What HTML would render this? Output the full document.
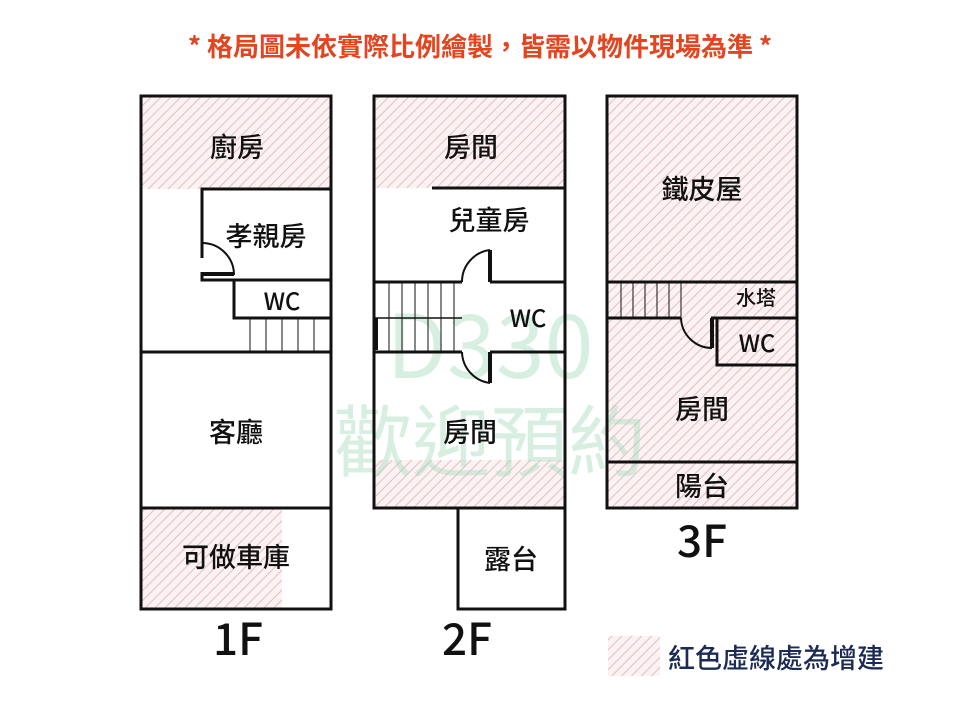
<!DOCTYPE html>
<html><head><meta charset="utf-8"><style>
html,body{margin:0;padding:0;background:#fff;}
svg{display:block;}
text{font-family:"Noto Sans CJK TC","Liberation Sans",sans-serif;}
</style></head><body>
<svg width="960" height="720" viewBox="0 0 960 720" xmlns="http://www.w3.org/2000/svg">
<defs>
<pattern id="h" patternUnits="userSpaceOnUse" width="7" height="7" patternTransform="rotate(45)">
<rect width="7" height="7" fill="#fbf2f3"/>
<line x1="0" y1="0" x2="0" y2="7" stroke="#e6bcc0" stroke-width="2"/>
</pattern>
</defs>
<text x="480" y="56" text-anchor="middle" font-size="26" font-weight="bold" fill="#e2451f">* 格局圖未依實際比例繪製，皆需以物件現場為準 *</text>

<rect x="141" y="96" width="190" height="93" fill="url(#h)"/>
<rect x="141" y="508" width="141" height="101" fill="url(#h)"/>
<rect x="374" y="96" width="191" height="92" fill="url(#h)"/>
<rect x="374" y="460" width="191" height="48" fill="url(#h)"/>
<rect x="607" y="96" width="190" height="412" fill="url(#h)"/>
<rect x="608" y="636" width="52" height="40" fill="url(#h)"/>

<g fill="#a8dcbb" opacity="0.45">
<text x="490" y="378" text-anchor="middle" font-size="88">D330</text>
<text x="490" y="470" text-anchor="middle" font-size="78">歡迎預約</text>
</g>

<g fill="none" stroke="#111" stroke-width="3">
<rect x="141" y="96" width="190" height="513"/>
<path d="M202 258 V189 H331"/>
<path d="M202 272 V280 H331"/>
<path d="M234 280 V318 H331"/>
<line x1="141" y1="352" x2="331" y2="352"/>
<line x1="141" y1="508" x2="331" y2="508"/>
<path d="M202 243 A32 32 0 0 1 234 275" stroke-width="2"/>
<line x1="202" y1="274" x2="234" y2="274" stroke-width="4"/>
<rect x="374" y="96" width="191" height="412"/>
<line x1="432" y1="188" x2="565" y2="188"/>
<path d="M374 282 H462"/>
<path d="M490 282 H565"/>
<path d="M374 352 H462"/>
<path d="M490 352 H565"/>
<line x1="490" y1="250" x2="490" y2="282" stroke-width="4"/>
<line x1="490" y1="352" x2="490" y2="383" stroke-width="4"/>
<path d="M490 250 A32 32 0 0 0 462 282" stroke-width="2"/>
<path d="M490 383 A32 32 0 0 1 462 352" stroke-width="2"/>
<line x1="375" y1="318" x2="462" y2="318" stroke-width="1.5"/>
<line x1="376" y1="318" x2="376" y2="350" stroke-width="4"/>
<rect x="458" y="508" width="107" height="101"/>
<rect x="607" y="96" width="190" height="412"/>
<line x1="607" y1="282" x2="797" y2="282"/>
<line x1="607" y1="318" x2="681" y2="318"/>
<path d="M711 318 H797"/>
<path d="M717 318 V365 H797"/>
<line x1="712" y1="318" x2="712" y2="348" stroke-width="4"/>
<path d="M681 318 A31 31 0 0 0 712 348" stroke-width="2"/>
<line x1="607" y1="462" x2="797" y2="462"/>
</g>
<g stroke="#111" stroke-width="1">
<line x1="250" y1="318" x2="250" y2="352"/><line x1="266" y1="318" x2="266" y2="352"/><line x1="282" y1="318" x2="282" y2="352"/><line x1="298" y1="318" x2="298" y2="352"/><line x1="314" y1="318" x2="314" y2="352"/>
<line x1="389" y1="282" x2="389" y2="352"/><line x1="402" y1="282" x2="402" y2="352"/><line x1="415" y1="282" x2="415" y2="352"/><line x1="428" y1="282" x2="428" y2="352"/><line x1="441" y1="282" x2="441" y2="352"/><line x1="454" y1="282" x2="454" y2="352"/>
<line x1="621" y1="282" x2="621" y2="318"/><line x1="633" y1="282" x2="633" y2="318"/><line x1="645" y1="282" x2="645" y2="318"/><line x1="657" y1="282" x2="657" y2="318"/><line x1="669" y1="282" x2="669" y2="318"/><line x1="681" y1="282" x2="681" y2="318"/>
</g>

<g fill="#111" font-size="27" font-weight="500" text-anchor="middle">
<text x="237" y="157">廚房</text>
<text x="266" y="246">孝親房</text>
<text x="282" y="310" font-size="24">WC</text>
<text x="236" y="442">客廳</text>
<text x="236" y="567">可做車庫</text>
<text x="471" y="157">房間</text>
<text x="489" y="230">兒童房</text>
<text x="528" y="327" font-size="24">WC</text>
<text x="470" y="442">房間</text>
<text x="511" y="569">露台</text>
<text x="702" y="199">鐵皮屋</text>
<text x="756" y="305" font-size="20">水塔</text>
<text x="757" y="352" font-size="24">WC</text>
<text x="702" y="419">房間</text>
<text x="702" y="496">陽台</text>
<text x="238" y="655" font-size="44">1F</text>
<text x="467" y="655" font-size="44">2F</text>
<text x="702" y="557" font-size="44">3F</text>
</g>
<text x="668" y="668" font-size="27" font-weight="500" fill="#1c2b55">紅色虛線處為增建</text>
</svg>
</body></html>
